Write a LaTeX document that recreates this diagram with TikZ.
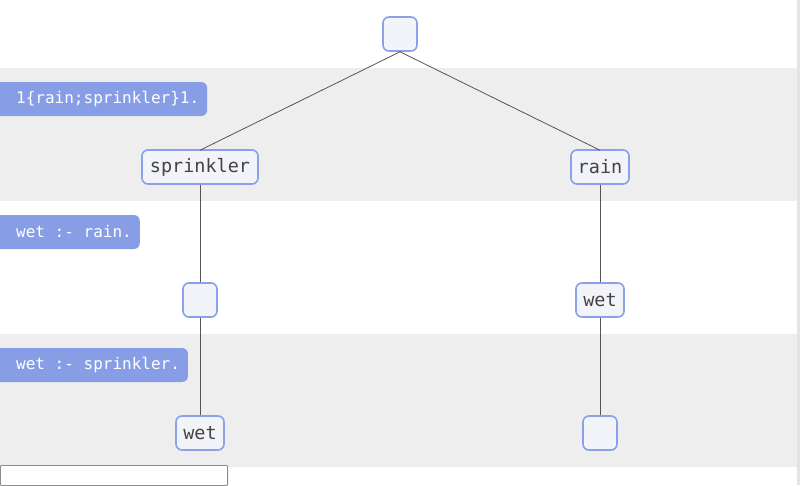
\documentclass[tikz,border=0pt]{standalone}
\usepackage{fontspec}
\setmonofont{DejaVu Sans Mono}
\definecolor{bandgray}{HTML}{EEEEEE}
\definecolor{nodeborder}{HTML}{8AA0E8}
\definecolor{nodefill}{HTML}{F3F4FA}
\definecolor{labelfill}{HTML}{879EE6}
\definecolor{textgray}{HTML}{444444}
\definecolor{edgegray}{HTML}{555555}
\definecolor{scrollgray}{HTML}{E4E4E4}
\tikzset{
  treenode/.style={draw=nodeborder, line width=1.6pt, fill=nodefill, rounded corners=6pt,
    minimum height=34pt, inner xsep=0pt, inner ysep=0pt, text=textgray,
    font=\ttfamily\fontsize{18.5}{20}\selectfont},
  rulebox/.style={fill=labelfill, rounded corners=6pt, minimum height=34pt, inner xsep=8pt,
    inner ysep=0pt, text=white, font=\ttfamily\fontsize{16}{18}\selectfont, anchor=west},
  edge/.style={draw=edgegray, line width=0.8pt}
}
\begin{document}
\begin{tikzpicture}[x=1pt,y=-1pt]
\useasboundingbox (0,0) rectangle (800,485);
\fill[white] (0,0) rectangle (800,485);
% bands
\fill[bandgray] (0,68) rectangle (797,201);
\fill[bandgray] (0,334) rectangle (797,467);
% scrollbar strip
\fill[scrollgray] (796.5,0) rectangle (800,485);
% input box
\draw[draw=gray!90, fill=white, line width=0.8pt, rounded corners=1pt] (0.4,465.4) rectangle (227.6,485.6);
% rule labels
\node[rulebox] (r1) at (-12,99) {\hspace*{20pt}1\{rain;sprinkler\}1.};
\node[rulebox] (r2) at (-12,232) {\hspace*{20pt}wet :- rain.};
\node[rulebox] (r3) at (-12,365) {\hspace*{20pt}wet :- sprinkler.};
% tree nodes
\node[treenode, minimum width=34pt] (root) at (400,34) {};
\node[treenode, minimum width=116pt] (spr) at (200,167) {sprinkler};
\node[treenode, minimum width=58pt] (rain) at (600,167) {rain};
\node[treenode, minimum width=34pt] (e1) at (200,300) {};
\node[treenode, minimum width=48pt] (wet1) at (600,300) {wet};
\node[treenode, minimum width=48pt] (wet2) at (200,433) {wet};
\node[treenode, minimum width=34pt] (e2) at (600,433) {};
% edges
\draw[edge] (root.south) -- ([yshift=-1pt]spr.north);
\draw[edge] (root.south) -- ([yshift=-1pt]rain.north);
\draw[edge] (spr.south) -- (e1.north);
\draw[edge] (e1.south) -- (wet2.north);
\draw[edge] (rain.south) -- (wet1.north);
\draw[edge] (wet1.south) -- (e2.north);
\end{tikzpicture}
\end{document}
